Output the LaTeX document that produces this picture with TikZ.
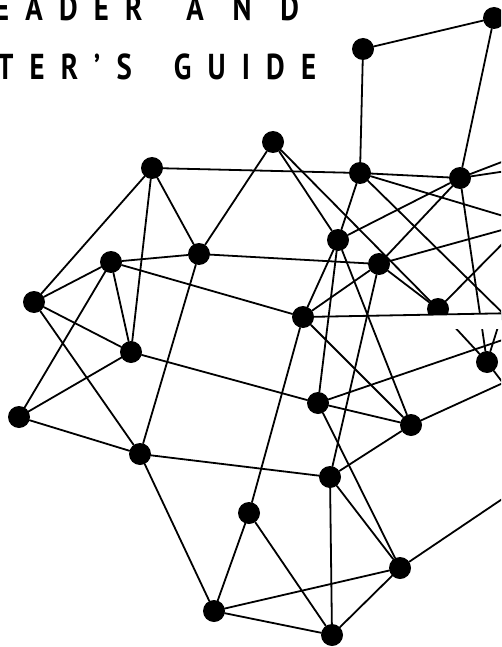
\documentclass[tikz,border=0pt]{standalone}
\usepackage{fontspec}
\newfontfamily\titlefont{PT Sans}[LetterSpace=45,FakeStretch=0.8]
\begin{document}
\begin{tikzpicture}[x=1pt,y=-1pt,
  dot/.style={circle,fill=black,draw=none,inner sep=0pt,minimum size=22pt},
  link/.style={line width=1.8pt,line cap=round},
  title/.style={anchor=base west,inner sep=0pt,font=\titlefont\bfseries\fontsize{36}{36}\selectfont}]
\useasboundingbox (0,0) rectangle (501,647);
\clip (0,0) rectangle (501,647);
% title
\node[title] (t1) at (-6,21) {EADER\hspace{44pt}\addfontfeatures{LetterSpace=80}AND};
\node[title] (t2) at (-3,80) {TER’S\hspace{42pt}GUIDE};
% nodes
\node[dot] (A) at (494,18) {};
\node[dot] (B) at (363,49) {};
\node[dot] (C) at (273,142) {};
\node[dot] (D) at (152,168) {};
\node[dot] (E) at (360,173) {};
\node[dot] (F) at (460,178) {};
\node[dot] (G) at (338,240) {};
\node[dot] (H) at (199,254) {};
\node[dot] (I) at (111,262) {};
\node[dot] (J) at (379,264) {};
\node[dot] (K) at (34,302) {};
\node[dot] (L) at (438,309) {};
\node[dot] (N) at (303,317) {};
\node[dot] (O) at (131,352) {};
\node[dot] (M) at (487,362) {};
\node[dot] (Q) at (318,403) {};
\node[dot] (P) at (19,417) {};
\node[dot] (R) at (411,425) {};
\node[dot] (S) at (140,454) {};
\node[dot] (T) at (330,477) {};
\node[dot] (U) at (249,513) {};
\node[dot] (V) at (400,568) {};
\node[dot] (W) at (214,611) {};
\node[dot] (X) at (332,635) {};
% off-page ends
\coordinate (r1) at (520,155);
\coordinate (r2) at (520,169);
\coordinate (r3) at (520,221);
\coordinate (r4) at (520,330);
\coordinate (r5) at (520,225);
\coordinate (r6) at (520,226);
\coordinate (r7) at (520,313);
\coordinate (r8) at (520,334);
\coordinate (r9) at (507,298);
\coordinate (Y) at (503,383);
\coordinate (r10) at (520,487);
% connectors
\draw[link] (A)--(B) (A)--(F) (B)--(E);
\draw[link] (C)--(H) (C)--(G) (C)--(L);
\draw[link] (D)--(E) (D)--(K) (D)--(O) (D)--(H);
\draw[link] (E)--(F) (E)--(G) (E)--(r3) (E)--(r4);
\draw[link] (F)--(G) (F)--(J) (F)--(M) (F)--(r1) (F)--(r2);
\draw[link] (G)--(N) (G)--(Q) (G)--(R);
\draw[link] (H)--(I) (H)--(J) (H)--(S);
\draw[link] (I)--(K) (I)--(O) (I)--(N) (I)--(P);
\draw[link] (J)--(N) (J)--(L) (J)--(T) (J)--(r5);
\draw[link] (K)--(O) (K)--(S);
\draw[link] (L)--(M) (L)--(r6);
\draw[link] (N)--(U) (N)--(R);
\draw[link] (O)--(P) (O)--(Q);
\draw[link] (P)--(S);
\draw[link] (Q)--(R) (Q)--(V) (Q)--(r8);
\draw[link] (R)--(T) (R)--(Y) (M)--(Y) (M)--(r9);
\draw[link] (S)--(T) (S)--(W);
\draw[link] (T)--(X) (T)--(V);
\draw[link] (U)--(W) (U)--(X);
\draw[link] (V)--(W) (V)--(X) (V)--(r10);
\draw[link] (W)--(X);
% torn strip
\fill[white] (420,314) rectangle (501,328.5);
\draw[link] (N)--(r7);
\end{tikzpicture}
\end{document}
